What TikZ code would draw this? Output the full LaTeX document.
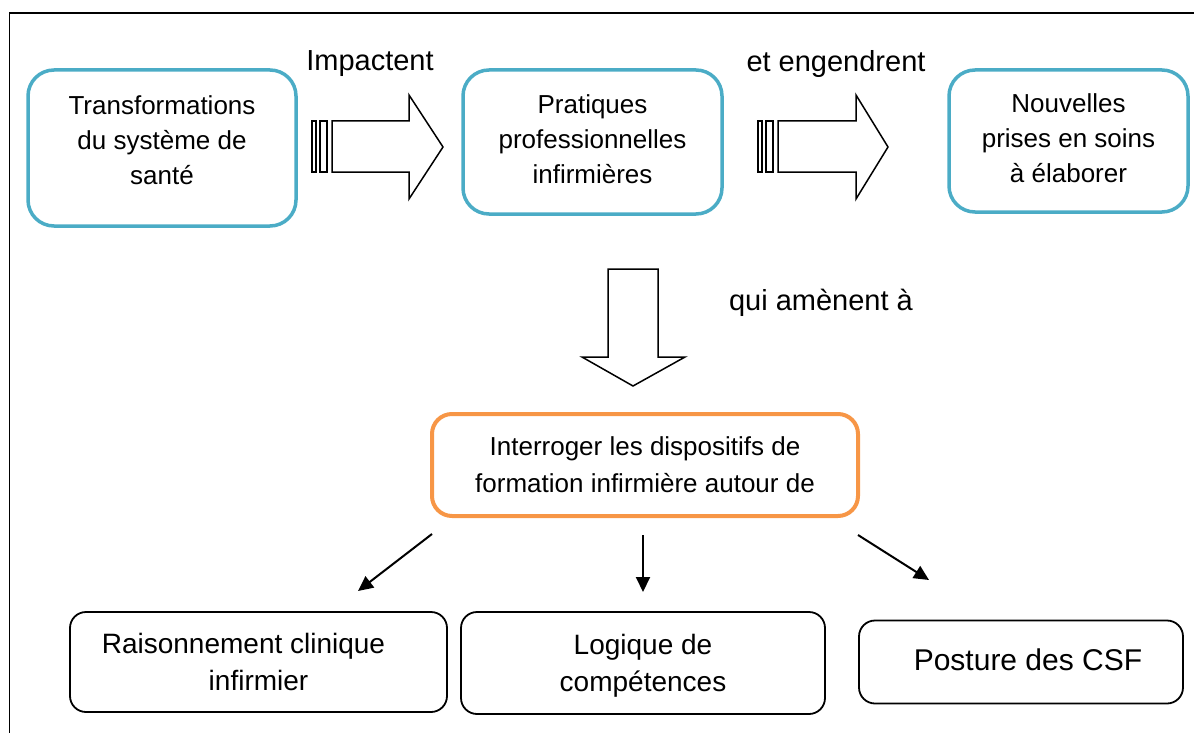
\documentclass[tikz,border=0pt]{standalone}
\usepackage{fontspec}
\setmainfont{Liberation Sans}
\usetikzlibrary{arrows.meta}
\definecolor{tealb}{HTML}{4BACC6}
\definecolor{orangeb}{HTML}{F79646}
\tikzset{
  topbox/.style={draw=tealb, line width=3.5pt, rounded corners=26pt, inner sep=0pt},
  midbox/.style={draw=orangeb, line width=4pt, rounded corners=20pt, inner sep=0pt},
  botbox/.style={draw=black, line width=1.8pt, rounded corners=16pt, inner sep=0pt},
  toptxt/.style={align=center, inner sep=0pt, font=\fontsize{26}{35}\selectfont},
  midtxt/.style={align=center, inner sep=0pt, font=\fontsize{26}{37}\selectfont},
  bottxt/.style={align=center, inner sep=0pt, font=\fontsize{28}{37}\selectfont},
  lbl/.style={font=\fontsize{29}{34}\selectfont, inner sep=0pt},
  blockarrow/.style={draw=black, line width=1.5pt, fill=white, line join=miter},
  smallarrow/.style={draw=black, line width=2pt, -{Triangle[length=15pt,width=14pt]}},
  framel/.style={draw=black, line width=1.6pt}
}
\begin{document}
\begin{tikzpicture}[x=1pt,y=-1pt]
\useasboundingbox (0,0) rectangle (1194,733);
% frame
\draw[framel] (9.5,733) -- (9.5,13) -- (1194,13);
% top boxes
\node[topbox, minimum width=268pt, minimum height=156pt] (t1) at (162,148) {};
\node[toptxt] (t1t) at (162,140) {Transformations\\du système de\\santé};
\node[topbox, minimum width=259pt, minimum height=144pt] (t2) at (592.5,142) {};
\node[toptxt] (t2t) at (592.5,139) {Pratiques\\professionnelles\\infirmières};
\node[topbox, minimum width=239pt, minimum height=142pt] (t3) at (1068.5,141) {};
\node[toptxt] (t3t) at (1068.5,138) {Nouvelles\\prises en soins\\à élaborer};
% labels
\node[lbl] (l1) at (370,64) {Impactent};
\node[lbl] (l2) at (836,64) {et engendrent};
\node[lbl] (l3) at (821,303) {qui amènent à};
% striped arrow 1
\draw[blockarrow] (312,121) rectangle (316,172);
\draw[blockarrow] (320,121) rectangle (327,172);
\draw[blockarrow] (332,121) -- (409,121) -- (409,95) -- (443,147) -- (409,199) -- (409,172) -- (332,172) -- cycle;
% striped arrow 2
\draw[blockarrow] (758,121) rectangle (762,172);
\draw[blockarrow] (766,121) rectangle (773,172);
\draw[blockarrow] (778,121) -- (856,121) -- (856,95) -- (888,147) -- (856,199) -- (856,172) -- (778,172) -- cycle;
% down arrow
\draw[blockarrow] (608,269) -- (658,269) -- (658,357) -- (685,357) -- (633,386) -- (582,357) -- (608,357) -- cycle;
% middle box
\node[midbox, minimum width=426pt, minimum height=102pt] (m) at (645,465) {};
\node[midtxt] (mt) at (645,465) {Interroger les dispositifs de\\formation infirmière autour de};
% bottom boxes
\node[botbox, minimum width=377pt, minimum height=100pt] (b1) at (258.5,662) {};
\node[bottxt] (b1t) at (258.5,662) {Raisonnement clinique\hspace*{30pt}\\infirmier};
\node[botbox, minimum width=364pt, minimum height=102pt] (b2) at (643,663) {};
\node[bottxt] (b2t) at (643,666) {Logique de\\compétences};
\node[botbox, minimum width=324pt, minimum height=83pt] (b3) at (1021,662) {};
\node[bottxt, font=\fontsize{30}{37}\selectfont] (b3t) at (1028,660) {Posture des CSF};
% small arrows
\coordinate (s1) at (432,534);
\coordinate (e1) at (358,591);
\coordinate (s2) at (643,535);
\coordinate (e2) at (643,592);
\coordinate (s3) at (858,535);
\coordinate (e3) at (929,580);
\draw[smallarrow] (s1) -- (e1);
\draw[smallarrow] (s2) -- (e2);
\draw[smallarrow] (s3) -- (e3);
\end{tikzpicture}
\end{document}
